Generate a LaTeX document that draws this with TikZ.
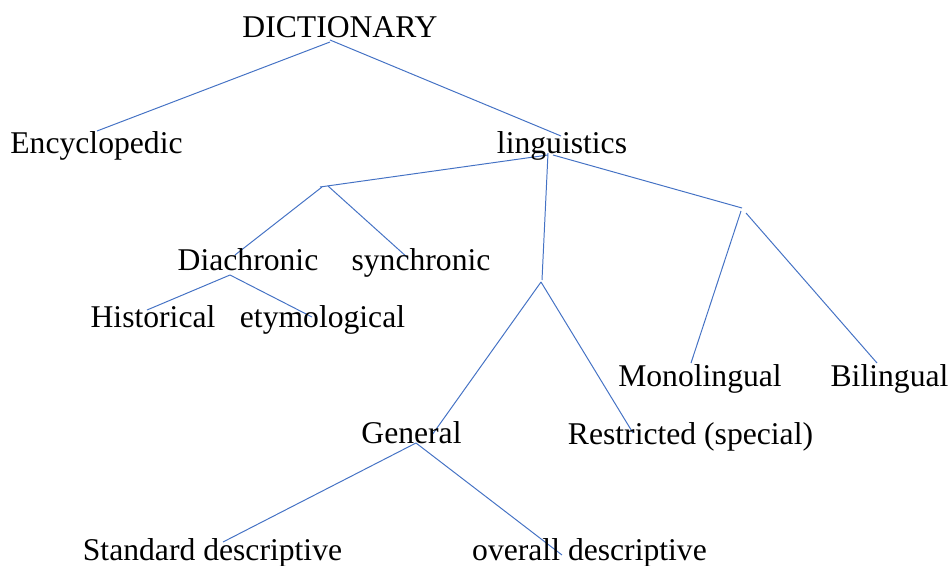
\documentclass[tikz,border=0pt]{standalone}
\usepackage{fontspec}
\setmainfont{Liberation Serif}
\usepackage{tikz}
\definecolor{white}{rgb}{1.0, 1.0, 1.0}
\definecolor{black}{rgb}{0.0, 0.0, 0.0}
\definecolor{lineblue}{RGB}{68,114,196}
\pgfdeclarelayer{edgelayer}
\pgfdeclarelayer{nodelayer}
\pgfsetlayers{edgelayer,nodelayer,main}
\tikzstyle{word}=[inner sep=0pt,anchor=base,text=black,font=\fontsize{22.5}{27}\selectfont]
\tikzstyle{branch}=[draw=lineblue,line width=0.7pt]

\begin{document}
\begin{tikzpicture}[x=0.025cm,y=-0.025cm]
        \useasboundingbox (0,0) rectangle (952,565);
        \begin{pgfonlayer}{nodelayer}
            \node [style = word] (dict) at (340, 38) {DICTIONARY};
            \node [style = word] (enc) at (96.5, 153) {Encyclopedic};
            \node [style = word] (ling) at (562, 153) {linguistics};
            \node [style = word] (dia) at (248, 270) {Diachronic};
            \node [style = word] (syn) at (421, 270) {synchronic};
            \node [style = word] (hist) at (153, 327) {Historical};
            \node [style = word] (ety) at (322.5, 327) {etymological};
            \node [style = word] (mono) at (700, 386) {Monolingual};
            \node [style = word] (bil) at (889.5, 386) {Bilingual};
            \node [style = word] (gen) at (411.5, 443) {General};
            \node [style = word] (restr) at (690.5, 444) {Restricted (special)};
            \node [style = word] (std) at (212.5, 560) {Standard descriptive};
            \node [style = word] (ovr) at (589.5, 560) {overall descriptive};
        \end{pgfonlayer}

        % line ends and branch points
        \coordinate (dict1) at (330, 42);
        \coordinate (dict2) at (330, 40);
        \coordinate (enc1) at (97, 131);
        \coordinate (ling1) at (561, 136);
        \coordinate (ling2) at (548, 155);
        \coordinate (ling3) at (548, 153);
        \coordinate (ling4) at (553, 155);
        \coordinate (left1) at (320, 187);
        \coordinate (left2) at (322, 187);
        \coordinate (left3) at (328, 186);
        \coordinate (dia1) at (235, 255);
        \coordinate (syn1) at (408, 258);
        \coordinate (dia2) at (230, 275);
        \coordinate (hist1) at (147, 310);
        \coordinate (ety1) at (312, 317);
        \coordinate (mid1) at (542, 280);
        \coordinate (mid2) at (541, 282);
        \coordinate (gen1) at (432, 435);
        \coordinate (restr1) at (633, 433);
        \coordinate (right1) at (742, 208);
        \coordinate (right2) at (741, 211);
        \coordinate (right3) at (746, 213);
        \coordinate (mono1) at (691, 363);
        \coordinate (bil1) at (877, 363);
        \coordinate (gen2) at (416, 443);
        \coordinate (std1) at (223, 542);
        \coordinate (ovr1) at (562, 555);

        \begin{pgfonlayer}{edgelayer}
            \draw [style = branch] (dict1) to (enc1);
            \draw [style = branch] (dict2) to (ling1);

            \draw [style = branch] (ling2) to (left1);
            \draw [style = branch] (left2) to (dia1);
            \draw [style = branch] (left3) to (syn1);
            \draw [style = branch] (dia2) to (hist1);
            \draw [style = branch] (dia2) to (ety1);

            \draw [style = branch] (ling3) to (mid1);
            \draw [style = branch] (mid2) to (gen1);
            \draw [style = branch] (mid2) to (restr1);
            \draw [style = branch] (gen2) to (std1);
            \draw [style = branch] (gen2) to (ovr1);

            \draw [style = branch] (ling4) to (right1);
            \draw [style = branch] (right2) to (mono1);
            \draw [style = branch] (right3) to (bil1);

        \end{pgfonlayer}
    \end{tikzpicture}
\end{document}
